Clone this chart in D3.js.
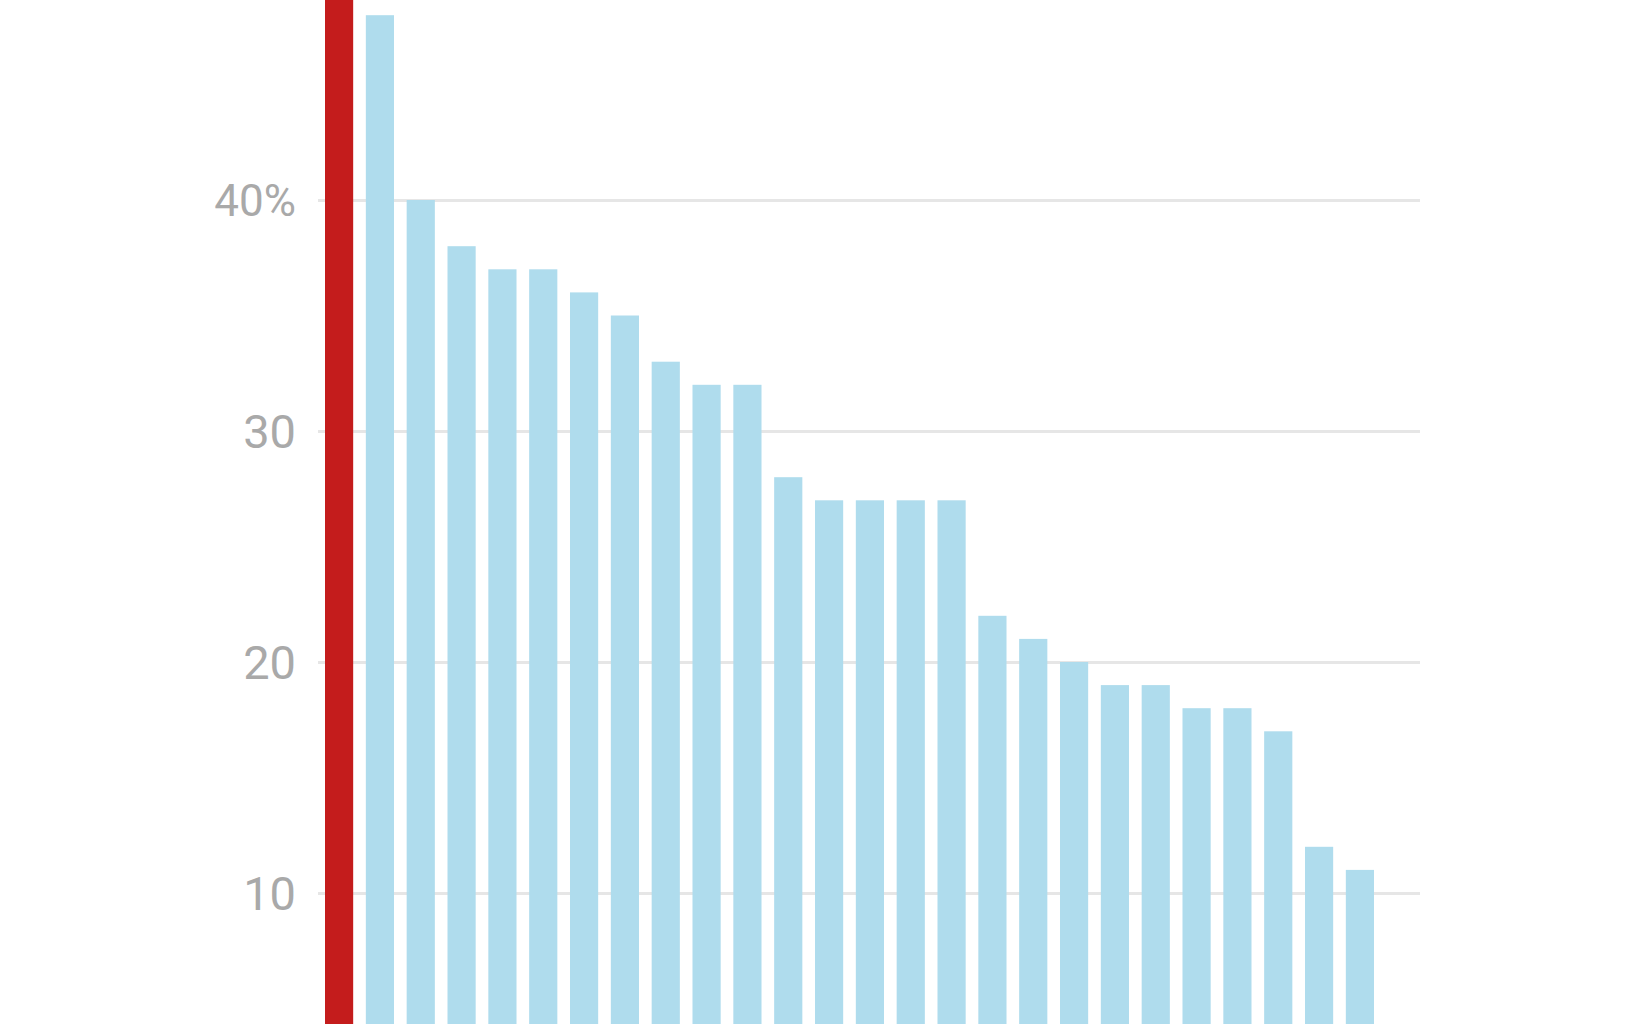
<!DOCTYPE html>
<html>
<head>
<meta charset="utf-8">
<script src="https://cdn.jsdelivr.net/npm/d3@7"></script>
<style>
  html, body { margin: 0; padding: 0; background: #fff; }
  svg { display: block; }
  .tick-label { font-family: Roboto, "Noto Sans", sans-serif; fill: #a9a9a9; }
</style>
</head>
<body>
<div id="chart"></div>
<script>
"use strict"

// ---------------------------- DATA ----------------------------//
// first category is the highlighted one, it runs past the top of the frame
const categories = ["Highlight", "B1", "B2", "B3", "B4", "B5", "B6", "B7", "B8", "B9", "B10",
    "B11", "B12", "B13", "B14", "B15", "B16", "B17", "B18", "B19", "B20",
    "B21", "B22", "B23", "B24", "B25"];
const values = [55, 48, 40, 38, 37, 37, 36, 35, 33, 32, 32,
    28, 27, 27, 27, 27, 22, 21, 20, 19, 19,
    18, 18, 17, 12, 11];
const tickValues = [10, 20, 30, 40];
const tickLabels = ["10", "20", "30", "40%"];

// --------------------------- LAYOUT ---------------------------//
const width = 1632;
const height = 1024;
const gridLeft = 318;
const gridRight = 1420;

const svg = d3.select("#chart").append("svg")
    .attr("width", width)
    .attr("height", height);

const xScale = d3.scaleBand()
    .domain(categories)
    .range([325, 1374])
    .paddingInner(0.31)
    .paddingOuter(0);

const yScale = d3.scaleLinear()
    .domain([10, 40])
    .range([893, 200]);

// --------------------------- GRID -----------------------------//
const grid = d3.axisLeft(yScale)
    .tickValues(tickValues)
    .tickSize(-(gridRight - gridLeft))
    .tickFormat("");

svg.append("g")
    .attr("class", "grid")
    .attr("transform", `translate(${gridLeft},0)`)
    .call(grid)
    .call(g => g.select(".domain").remove())
    .call(g => g.selectAll("line").attr("stroke", "#e6e6e6").attr("stroke-width", 3));

// --------------------------- LABELS ---------------------------//
svg.append("g")
    .selectAll("text")
    .data(tickValues)
    .join("text")
    .attr("class", "tick-label")
    .attr("x", 296)
    .attr("y", d => yScale(d))
    .attr("dy", "0.36em")
    .attr("text-anchor", "end")
    .style("font-size", (d, i) => tickLabels[i].endsWith("%") ? "44px" : "47px")
    .text((d, i) => tickLabels[i]);

// ---------------------------- BARS ----------------------------//
svg.append("g")
    .selectAll("rect")
    .data(values)
    .join("rect")
    .attr("x", (d, i) => xScale(categories[i]))
    .attr("y", d => yScale(d))
    .attr("width", xScale.bandwidth())
    .attr("height", d => yScale(0) - yScale(d))
    .attr("fill", (d, i) => i === 0 ? "#c41c1c" : "#afdced");
</script>
</body>
</html>
